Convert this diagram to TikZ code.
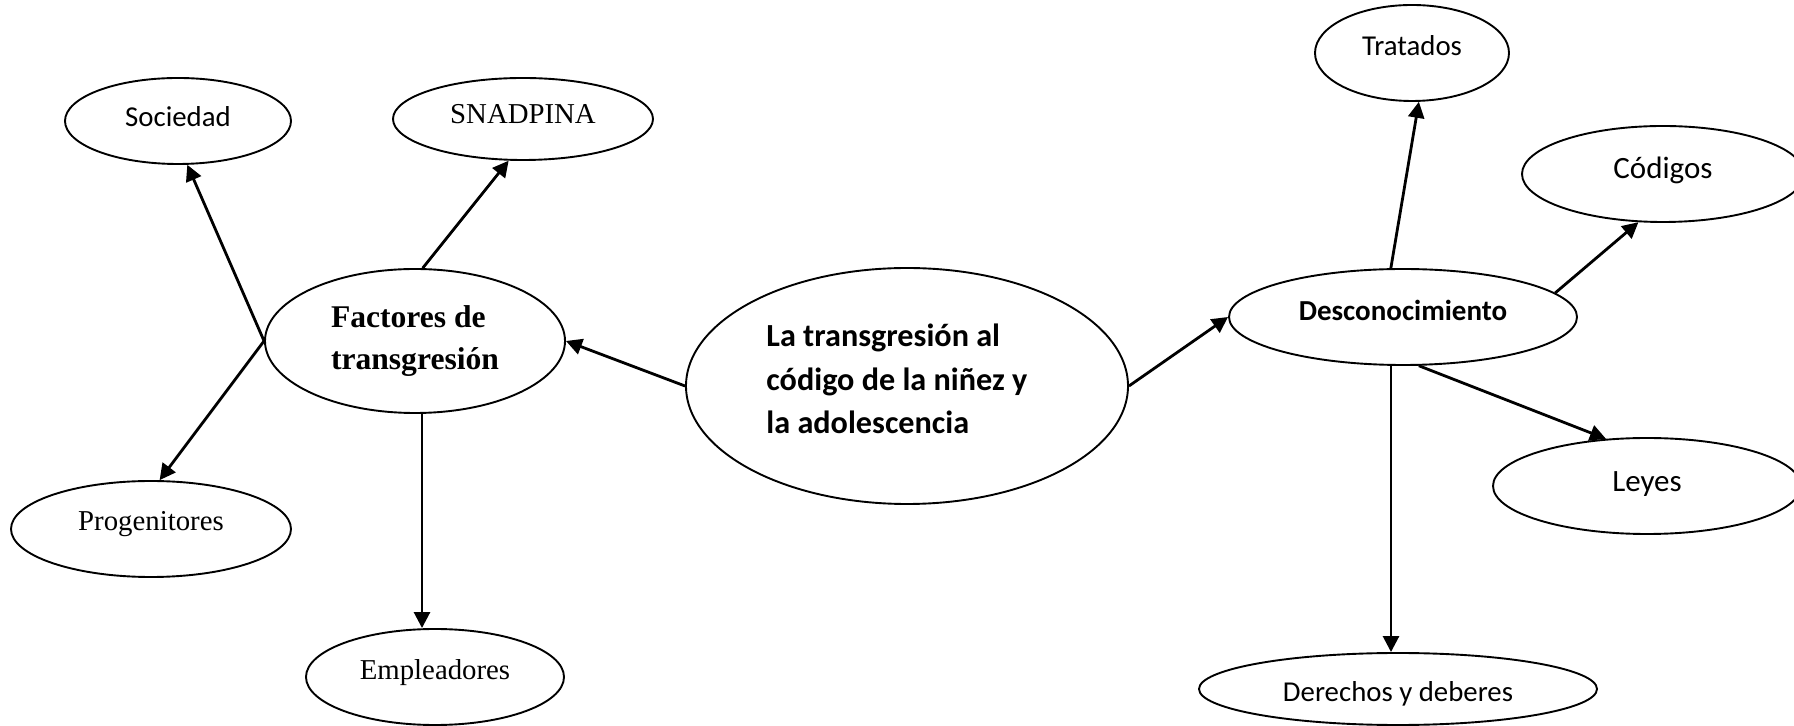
\documentclass[tikz,border=0pt]{standalone}
\usepackage{fontspec}
\setmainfont{Liberation Serif}
\newfontfamily\calibri{Carlito}
\usetikzlibrary{shapes.geometric,arrows.meta}
\begin{document}
\begin{tikzpicture}[x=0.5pt,y=-0.5pt,
  ell/.style={draw, ellipse, line width=0.95pt, inner sep=0pt},
  conn/.style={line width=1.4pt, -{Triangle[length=8pt,width=8pt]}},
  tnr/.style={font=\fontsize{14.4}{17}\selectfont},
  cbr/.style={font=\calibri\fontsize{14.4}{17}\selectfont},
  cbrl/.style={font=\calibri\fontsize{15.5}{18}\selectfont},
  bl/.style={text height=#1, text depth=0pt},
]
\useasboundingbox (0,0) rectangle (1794,726);

% left cluster
\node[ell, cbr, bl=6pt, minimum width=113pt, minimum height=43pt] (soc) at (178,121) {Sociedad};
\node[ell, tnr, bl=5pt, minimum width=130pt, minimum height=41pt] (sna) at (523,119) {SNADPINA};
\node[ell, align=left, font=\bfseries\fontsize{15.8}{21}\selectfont, minimum width=150pt, minimum height=72pt] (fac) at (415,341) {Factores de\\transgresión};
\node[ell, tnr, bl=2pt, minimum width=140pt, minimum height=48pt] (pro) at (151,529) {Progenitores};
\node[ell, tnr, bl=3pt, minimum width=129pt, minimum height=48pt] (emp) at (435,677) {Empleadores};

% centre
\node[ell, minimum width=221pt, minimum height=118pt] (cen) at (907,386) {};
\node[anchor=west, align=left, inner sep=0pt, font=\calibri\bfseries\fontsize{16.1}{21.75}\selectfont] (centxt) at (766,379) {La transgresión al\\código de la niñez y\\la adolescencia};

% right cluster
\node[ell, font=\calibri\bfseries\fontsize{14.5}{17}\selectfont, bl=4pt, minimum width=174pt, minimum height=48pt] (des) at (1403,317) {Desconocimiento};
\node[ell, cbr, bl=3pt, minimum width=97pt, minimum height=48pt] (tra) at (1412,53) {Tratados};
\node[ell, cbrl, bl=5pt, minimum width=141pt, minimum height=48pt] (cod) at (1663,174) {Códigos};
\node[ell, cbrl, bl=6pt, minimum width=154pt, minimum height=48pt] (ley) at (1647,486) {Leyes};
\node[ell, cbr, bl=12pt, minimum width=199pt, minimum height=36pt] (der) at (1398,689) {Derechos y deberes};

% connectors
\draw[conn] (cen.west) -- (fac.east);
\draw[conn] (cen.east) -- (des.west);
\draw[conn] (fac.west) -- (soc.-78);
\draw[conn] (fac.84) -- (sna.-109);
\draw[conn] (fac.west) -- (pro.80);
\draw[conn] ([xshift=3.5pt]fac.south) -- ([xshift=3.5pt]fac.south |- emp.north);
\draw[conn] (des.104) -- (tra.-82);
\draw[conn] (des.9) -- (cod.-117);
\draw[conn] (des.-72) -- (ley.131);
\draw[conn] ([xshift=-6pt]des.south) -- ([xshift=-6pt]des.south |- der.north);
\end{tikzpicture}
\end{document}
